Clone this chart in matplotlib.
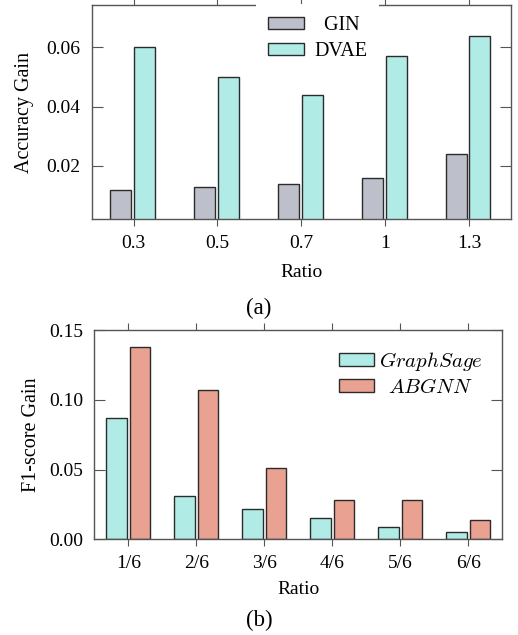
import numpy as np
import matplotlib
matplotlib.use("Agg")
import matplotlib.pyplot as plt

plt.rcParams['font.family'] = ['Liberation Serif', 'DejaVu Serif']
plt.rcParams['mathtext.fontset'] = 'cm'

# panel (a)
ratios_a = ['0.3', '0.5', '0.7', '1', '1.3']
gin = [0.012, 0.013, 0.014, 0.016, 0.024]
dvae = [0.060, 0.050, 0.044, 0.057, 0.064]

# panel (b)
ratios_b = ['1/6', '2/6', '3/6', '4/6', '5/6', '6/6']
graphsage = [0.087, 0.031, 0.022, 0.015, 0.009, 0.005]
abgnn = [0.138, 0.107, 0.051, 0.028, 0.028, 0.014]

gray = '#bdbfca'
cyan = '#b0ebe5'
salmon = '#e9a191'
edge = '#2b2b2b'
spine_c = '#555555'

fig = plt.figure(figsize=(5.18, 6.35), dpi=100)
ax1 = fig.add_axes([0.177, 0.6546, 0.8095, 0.338])
ax2 = fig.add_axes([0.182, 0.1507, 0.7876, 0.3296])


def style(ax):
    for s in ax.spines.values():
        s.set_color(spine_c)
        s.set_linewidth(1.0)
    ax.tick_params(axis='x', direction='out', top=True, length=5,
                   color=spine_c, labelsize=14, pad=6)
    ax.tick_params(axis='y', direction='in', right=True, length=8,
                   color=spine_c, labelsize=14, pad=8)


x = np.arange(len(ratios_a))
w = 0.25
ax1.bar(x - 0.155, gin, w, color=gray, edgecolor=edge, linewidth=1, label='  GIN')
ax1.bar(x + 0.13, dvae, w, color=cyan, edgecolor=edge, linewidth=1, label='DVAE')
ax1.set_xlim(-0.5, len(ratios_a) - 0.5)
ax1.set_ylim(0.002, 0.0744)
ax1.set_xticks(x)
ax1.set_xticklabels(ratios_a)
ax1.set_yticks([0.02, 0.04, 0.06])
ax1.set_yticklabels(['0.02', '0.04', '0.06'])
ax1.set_ylabel('Accuracy Gain', fontsize=14.5, labelpad=9)
ax1.set_xlabel('Ratio', fontsize=14, labelpad=9)
style(ax1)
leg1 = ax1.legend(loc='upper left', bbox_to_anchor=(256 / 518, 1 - 4 / 635),
                  bbox_transform=fig.transFigure, fontsize=14.5,
                  handlelength=1.8, handleheight=0.6, handletextpad=0.5,
                  labelspacing=0.35, borderpad=0.6, borderaxespad=0,
                  frameon=True, fancybox=False, edgecolor='none',
                  facecolor='white', framealpha=1)
fig.text(0.5, 1 - 308 / 635, '(a)', ha='center', va='center', fontsize=16.5)

x2 = np.arange(len(ratios_b))
w2 = 0.30
ax2.bar(x2 - 0.175, graphsage, w2, color=cyan, edgecolor=edge, linewidth=1,
        label=r'$GraphSage$')
ax2.bar(x2 + 0.175, abgnn, w2, color=salmon, edgecolor=edge, linewidth=1,
        label=r'$\enspace ABGNN$')
ax2.set_xlim(-0.5, len(ratios_b) - 0.5)
ax2.set_ylim(0, 0.15)
ax2.set_xticks(x2)
ax2.set_xticklabels(ratios_b)
ax2.set_yticks([0, 0.05, 0.10, 0.15])
ax2.set_yticklabels(['0.00', '0.05', '0.10', '0.15'])
ax2.set_ylabel('F1-score Gain', fontsize=14.5, labelpad=6)
ax2.set_xlabel('Ratio', fontsize=14, labelpad=7)
style(ax2)
ax2.legend(loc='upper right', fontsize=15, frameon=False,
           handlelength=1.7, handleheight=0.55, handletextpad=0.2,
           labelspacing=0.3, borderaxespad=0.55)
fig.text(0.5, 1 - 620 / 635, '(b)', ha='center', va='center', fontsize=16.5)

fig.savefig('out.png', dpi=100)
